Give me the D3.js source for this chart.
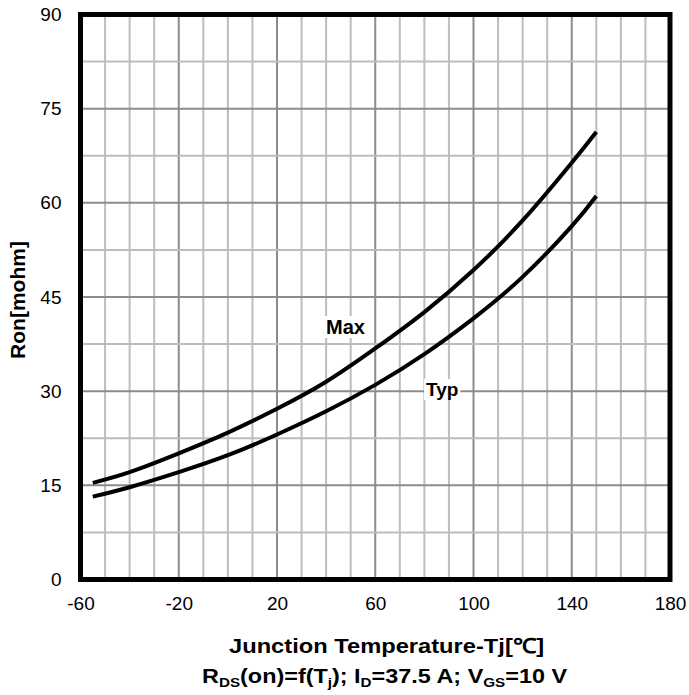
<!DOCTYPE html>
<html>
<head>
<meta charset="utf-8">
<script src="https://cdn.jsdelivr.net/npm/d3@7"></script>
<style>
  body { margin: 0; background: #fff; }
  text { font-family: "Liberation Sans", Arial, sans-serif; }
</style>
</head>
<body>
<div id="chart"></div>
<script>
// Data
const temps = [-55, -40, -20, 0, 20, 40, 60, 80, 100, 120, 140, 150];
const ronMax = [15.4, 17.1, 20.1, 23.4, 27.2, 31.5, 36.8, 42.6, 49.3, 57.2, 66.4, 71.3];
const ronTyp = [13.2, 14.7, 17.1, 19.8, 23.1, 26.8, 31.0, 35.9, 41.6, 48.2, 56.3, 61.1];
const xTicks = [-60, -20, 20, 60, 100, 140, 180];
const yTicks = [0, 15, 30, 45, 60, 75, 90];

const width = 689;
const height = 695;
const margin = { left: 80.5, right: 19, top: 14.5, bottom: 115.5 };

const svg = d3.select("#chart").append("svg")
    .attr("width", width)
    .attr("height", height);

const x = d3.scaleLinear().domain([-60, 180]).range([margin.left, width - margin.right]);
const y = d3.scaleLinear().domain([0, 90]).range([height - margin.bottom, margin.top]);

// grid: minor lines every 10 / 7.5, darker at tick values
const xGrid = d3.range(-50, 180, 10);
const yGrid = d3.range(7.5, 90, 7.5);

svg.selectAll("line.vgrid")
    .data(xGrid)
    .enter()
    .append("line")
    .attr("class", "vgrid")
    .attr("x1", d => x(d)).attr("x2", d => x(d))
    .attr("y1", y(0)).attr("y2", y(90))
    .attr("stroke", d => xTicks.includes(d) ? "#8c8c8c" : "#bdbdbd")
    .attr("stroke-width", 2);

svg.selectAll("line.hgrid")
    .data(yGrid)
    .enter()
    .append("line")
    .attr("class", "hgrid")
    .attr("x1", x(-60)).attr("x2", x(180))
    .attr("y1", d => y(d)).attr("y2", d => y(d))
    .attr("stroke", d => yTicks.includes(d) ? "#8c8c8c" : "#bdbdbd")
    .attr("stroke-width", 2);

// curves
const line = d3.line()
    .x(d => x(d[0]))
    .y(d => y(d[1]))
    .curve(d3.curveNatural);

[ronMax, ronTyp].forEach(series => {
    svg.append("path")
        .datum(temps.map((t, i) => [t, series[i]]))
        .attr("fill", "none")
        .attr("stroke", "#000")
        .attr("stroke-width", 4)
        .attr("d", line);
});

// curve labels with white box behind
function label(txt, tx, ty, size) {
    const g = svg.append("g");
    const t = g.append("text")
        .attr("x", tx).attr("y", ty)
        .attr("font-size", size)
        .attr("font-weight", "bold")
        .text(txt);
    const b = t.node().getBBox();
    g.insert("rect", "text")
        .attr("x", b.x - 2).attr("y", b.y)
        .attr("width", b.width + 4).attr("height", b.height)
        .attr("fill", "#fff");
}
label("Max", 326, 334, 20);
label("Typ", 426, 396, 19);

// frame
svg.append("rect")
    .attr("x", x(-60)).attr("y", y(90))
    .attr("width", x(180) - x(-60))
    .attr("height", y(0) - y(90))
    .attr("fill", "none")
    .attr("stroke", "#000")
    .attr("stroke-width", 5);

// axes (labels only)
const xAxis = svg.append("g")
    .attr("transform", `translate(0,${y(0)})`)
    .call(d3.axisBottom(x).tickValues(xTicks).tickFormat(d => String(d)).tickSize(0).tickPadding(17));
const yAxis = svg.append("g")
    .attr("transform", `translate(${x(-60)},0)`)
    .call(d3.axisLeft(y).tickValues(yTicks).tickFormat(d => String(d)).tickSize(0).tickPadding(19));
[xAxis, yAxis].forEach(a => {
    a.select(".domain").remove();
    a.selectAll("text")
        .attr("font-family", "Liberation Sans, Arial, sans-serif")
        .attr("font-size", 19)
        .attr("fill", "#000");
});

// stretch a text horizontally so it spans [left, right] (the source is wider than its height)
function fitWidth(sel, left, right) {
    const b = sel.node().getBBox();
    const sx = (right - left) / b.width;
    sel.attr("transform", `translate(${left},0) scale(${sx},1) translate(${-b.x},0)`);
}

// titles
svg.append("text")
    .attr("transform", "translate(25,300) rotate(-90)")
    .attr("text-anchor", "middle")
    .attr("font-size", 21)
    .attr("font-weight", "bold")
    .text("Ron[mohm]");

const title = svg.append("text")
    .attr("x", 0).attr("y", 653)
    .attr("font-size", 20.5)
    .attr("font-weight", "bold")
    .text("Junction Temperature-Tj[℃]");
fitWidth(title, 229, 544);

const sub = svg.append("text")
    .attr("x", 0).attr("y", 683)
    .attr("font-size", 20)
    .attr("font-weight", "bold");
const parts = [
    ["R", false], ["DS", true], ["(on)=f(T", false], ["j", true],
    ["); I", false], ["D", true], ["=37.5 A; V", false], ["GS", true], ["=10 V", false]
];
parts.forEach(([s, isSub], i) => {
    const ts = sub.append("tspan").text(s);
    if (isSub) ts.attr("font-size", 13).attr("dy", 4);
    else if (i > 0) ts.attr("dy", -4);
});
fitWidth(sub, 202, 568);
</script>
</body>
</html>
